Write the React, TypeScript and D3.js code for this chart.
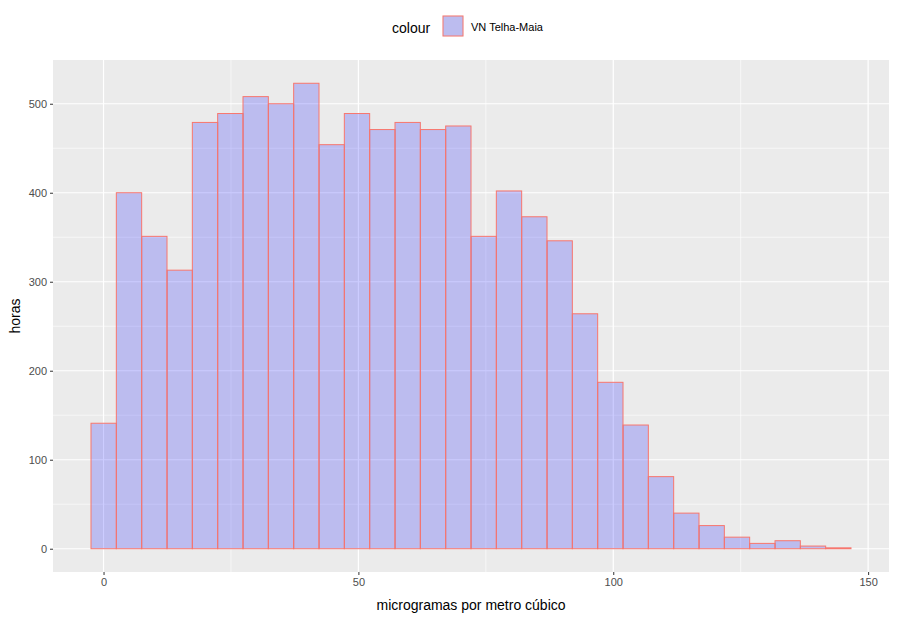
import { useEffect, useRef } from "react";
import * as d3 from "d3";

// histogram bins (lower edge of first bin, constant width) and counts
const binStart = -2.46;
const binWidth = 4.97;
const counts = [
  141, 400, 351, 313, 479, 489, 508, 500, 523, 454, 489, 471, 479, 471, 475,
  351, 402, 373, 346, 264, 187, 139, 81, 40, 26, 13, 6, 9, 3, 1,
];
const xTicks = [0, 50, 100, 150];
const xMinor = [25, 75, 125];
const yTicks = [0, 100, 200, 300, 400, 500];
const yMinor = [50, 150, 250, 350, 450];
const seriesName = "VN Telha-Maia";

const W = 899,
  H = 618;

const App = () => {
  const svgRef = useRef<SVGSVGElement | null>(null);

  useEffect(() => {
    const svg = d3.select(svgRef.current);
    svg.selectAll("*").remove();

    const panel = { left: 53, right: 889, top: 60, bottom: 572 };
    const font = "Liberation Sans, Arial, sans-serif";

    const bins = counts.map((c, i) => ({
      x0: binStart + i * binWidth,
      x1: binStart + (i + 1) * binWidth,
      n: c,
    }));

    const x0 = binStart;
    const x1 = binStart + counts.length * binWidth;
    const xPad = (x1 - x0) * 0.05;
    const x = d3
      .scaleLinear()
      .domain([x0 - xPad, x1 + xPad])
      .range([panel.left, panel.right]);

    const yMax = d3.max(counts)!;
    const y = d3
      .scaleLinear()
      .domain([-yMax * 0.05, yMax * 1.05])
      .range([panel.bottom, panel.top]);

    // panel background
    svg
      .append("rect")
      .attr("x", panel.left)
      .attr("y", panel.top)
      .attr("width", panel.right - panel.left)
      .attr("height", panel.bottom - panel.top)
      .attr("fill", "#EBEBEB");

    const grid = svg.append("g");
    grid
      .selectAll(".xminor")
      .data(xMinor)
      .enter()
      .append("line")
      .attr("x1", (d) => x(d))
      .attr("x2", (d) => x(d))
      .attr("y1", panel.top)
      .attr("y2", panel.bottom)
      .attr("stroke", "white")
      .attr("stroke-width", 0.6);
    grid
      .selectAll(".yminor")
      .data(yMinor)
      .enter()
      .append("line")
      .attr("x1", panel.left)
      .attr("x2", panel.right)
      .attr("y1", (d) => y(d))
      .attr("y2", (d) => y(d))
      .attr("stroke", "white")
      .attr("stroke-width", 0.6);
    grid
      .selectAll(".xmajor")
      .data(xTicks)
      .enter()
      .append("line")
      .attr("x1", (d) => x(d))
      .attr("x2", (d) => x(d))
      .attr("y1", panel.top)
      .attr("y2", panel.bottom)
      .attr("stroke", "white")
      .attr("stroke-width", 1.2);
    grid
      .selectAll(".ymajor")
      .data(yTicks)
      .enter()
      .append("line")
      .attr("x1", panel.left)
      .attr("x2", panel.right)
      .attr("y1", (d) => y(d))
      .attr("y2", (d) => y(d))
      .attr("stroke", "white")
      .attr("stroke-width", 1.2);

    // bars
    svg
      .append("g")
      .selectAll("rect")
      .data(bins)
      .enter()
      .append("rect")
      .attr("x", (d) => x(d.x0))
      .attr("y", (d) => y(d.n))
      .attr("width", (d) => x(d.x1) - x(d.x0))
      .attr("height", (d) => y(0) - y(d.n))
      .attr("fill", "rgba(0,0,255,0.2)")
      .attr("stroke", "#F8766D")
      .attr("stroke-width", 1);

    // axes
    const xAxis = svg
      .append("g")
      .attr("transform", `translate(0,${panel.bottom})`)
      .call(d3.axisBottom(x).tickValues(xTicks).tickSize(3).tickPadding(3));
    const yAxis = svg
      .append("g")
      .attr("transform", `translate(${panel.left},0)`)
      .call(d3.axisLeft(y).tickValues(yTicks).tickSize(3).tickPadding(3));
    [xAxis, yAxis].forEach((a) => {
      a.select(".domain").remove();
      a.selectAll("line").attr("stroke", "#333333");
      a.selectAll("text")
        .attr("fill", "#4D4D4D")
        .style("font-family", font)
        .style("font-size", "11px");
    });

    // axis titles
    svg
      .append("text")
      .attr("x", (panel.left + panel.right) / 2)
      .attr("y", 610)
      .attr("text-anchor", "middle")
      .style("font-family", font)
      .style("font-size", "14px")
      .attr("fill", "black")
      .text("microgramas por metro cúbico");
    svg
      .append("text")
      .attr("transform", `translate(20,${(panel.top + panel.bottom) / 2}) rotate(-90)`)
      .attr("text-anchor", "middle")
      .style("font-family", font)
      .style("font-size", "14px")
      .attr("fill", "black")
      .text("horas");

    // legend
    const lg = svg.append("g");
    lg.append("text")
      .attr("x", 392)
      .attr("y", 33)
      .style("font-family", font)
      .style("font-size", "14px")
      .attr("fill", "black")
      .text("colour");
    lg.append("rect")
      .attr("x", 442.5)
      .attr("y", 15.5)
      .attr("width", 21)
      .attr("height", 21)
      .attr("fill", "#F2F2F2");
    lg.append("rect")
      .attr("x", 443)
      .attr("y", 16)
      .attr("width", 20)
      .attr("height", 20)
      .attr("fill", "#BCBCEF")
      .attr("stroke", "#F8766D")
      .attr("stroke-width", 1);
    lg.append("text")
      .attr("x", 471)
      .attr("y", 31)
      .style("font-family", font)
      .style("font-size", "11px")
      .attr("fill", "black")
      .text(seriesName);
  }, []);

  return (
    <svg
      ref={svgRef}
      width={W}
      height={H}
      style={{ display: "block", position: "absolute", left: 0, top: 0, background: "white" }}
    ></svg>
  );
};

export default App;
